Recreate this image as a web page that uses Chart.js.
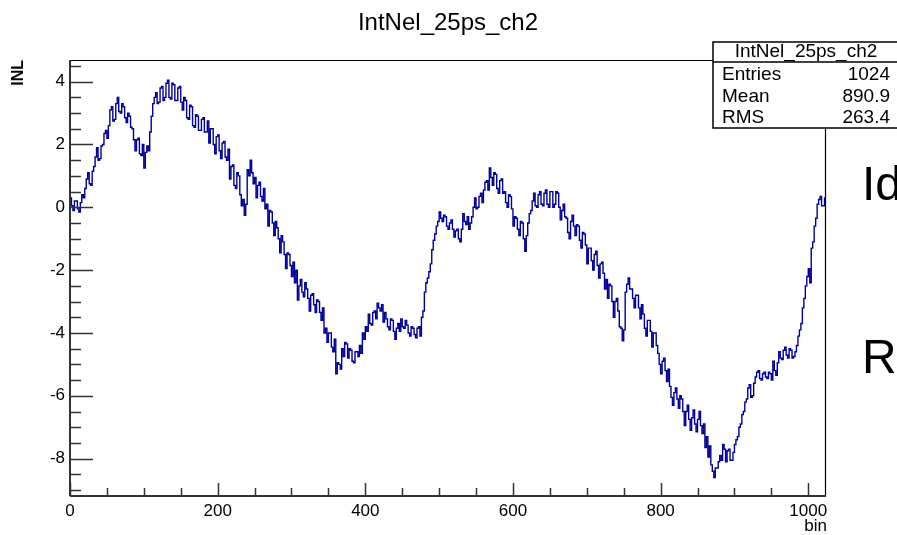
<!DOCTYPE html>
<html>
<head>
<meta charset="utf-8">
<title>IntNel_25ps_ch2</title>
<script src="https://cdn.jsdelivr.net/npm/chart.js@4"></script>
<style>
  html, body { margin: 0; padding: 0; background: #fff; }
  canvas { display: block; }
</style>
</head>
<body>
<canvas id="inl-chart" width="897" height="535"></canvas>
<script>
// histogram: 1024 bins, values read in groups of 2 bins
var binWidth = 2;
var nBins = 1024;
var inl = [
  0.3, 0.05, -0.1, 0.2, 0.2, -0.05, -0.15, 0.15, 0.4, 0.3, 0.6, 0.9, 1.1, 0.75, 0.7, 1.15,
  1.3, 1.6, 1.9, 1.5, 1.55, 1.95, 2.0, 2.35, 2.45, 2.2, 2.6, 3.1, 3.2, 2.75, 2.8, 3.3,
  3.5, 3.05, 3.0, 3.3, 3.2, 2.85, 2.7, 3.0, 2.9, 2.55, 2.5, 2.15, 1.8, 2.15, 2.2, 1.7,
  1.65, 2.0, 1.25, 1.75, 1.95, 1.8, 2.4, 2.9, 3.3, 3.5, 3.65, 3.3, 3.35, 3.8, 3.85, 3.4,
  3.5, 3.95, 4.05, 3.5, 3.45, 3.95, 3.9, 3.4, 3.4, 3.8, 3.85, 3.35, 3.1, 3.5, 3.4, 2.85,
  2.8, 3.25, 3.2, 2.6, 2.55, 2.95, 2.9, 2.45, 2.45, 2.8, 2.85, 2.4, 2.4, 2.75, 2.05, 2.5,
  2.5, 2.0, 1.7, 2.25, 2.3, 1.8, 1.55, 2.05, 2.1, 1.6, 1.5, 1.85, 0.9, 1.3, 1.35, 0.7,
  0.6, 1.1, 1.0, 0.4, 0.05, 0.25, -0.25, 0.1, 1.2, 1.0, 1.5, 1.1, 0.75, 0.95, 0.3, 0.7,
  0.8, 0.35, 0.2, 0.6, -0.05, 0.1, -0.6, -0.1, -0.15, -0.5, -0.9, -0.45, -0.65, -1.0, -1.45, -0.9,
  -1.1, -1.5, -1.95, -1.45, -1.5, -1.85, -2.2, -1.75, -2.4, -2.0, -2.95, -2.5, -2.3, -2.7, -2.85, -2.4,
  -2.6, -2.9, -3.3, -2.8, -2.75, -3.1, -3.35, -2.95, -3.0, -3.35, -3.6, -3.2, -4.0, -3.85, -4.3, -4.0,
  -4.0, -4.45, -4.6, -4.2, -5.3, -4.95, -5.0, -5.15, -4.5, -4.75, -4.3, -4.35, -4.8, -4.5, -4.55, -4.9,
  -4.95, -4.6, -4.6, -4.75, -4.4, -4.65, -4.0, -4.2, -3.8, -3.95, -3.4, -3.7, -3.75, -3.35, -3.3, -3.55,
  -3.05, -3.2, -3.3, -3.1, -3.65, -3.35, -3.55, -3.8, -3.9, -3.55, -3.6, -3.95, -4.2, -3.85, -3.7, -3.95,
  -3.55, -3.8, -3.85, -3.6, -3.75, -4.0, -4.1, -3.8, -3.85, -4.05, -4.15, -3.85, -3.8, -4.1, -3.5, -3.3,
  -2.7, -2.4, -2.25, -2.05, -1.8, -1.35, -1.05, -0.85, -0.6, -0.45, -0.15, -0.35, -0.45, -0.25, -0.3, -0.6,
  -0.7, -0.5, -0.4, -0.7, -0.95, -0.75, -0.7, -1.0, -1.1, -0.7, -0.2, -0.45, -0.55, -0.3, -0.7, -0.5,
  -0.3, 0.0, 0.3, -0.05, 0.0, 0.35, 0.45, 0.15, 0.55, 0.8, 0.85, 0.55, 1.25, 0.95, 0.7, 1.1,
  1.05, 0.6, 0.45, 0.85, 0.9, 0.45, 0.5, 0.15, 0.0, 0.4, 0.35, -0.05, -0.6, -0.3, -0.35, -0.7,
  -0.9, -0.45, -0.5, -1.0, -1.4, -0.9, -0.5, -0.2, -0.1, 0.2, 0.45, 0.05, 0.0, 0.4, 0.5, 0.1,
  0.05, 0.45, 0.55, 0.1, 0.0, 0.5, 0.5, 0.0, 0.1, 0.5, 0.45, 0.0, -0.4, -0.1, 0.1, -0.3,
  -0.35, -0.8, -1.0, -0.45, -0.25, -0.6, -0.9, -0.55, -0.6, -1.05, -1.3, -0.8, -0.85, -1.2, -1.8, -1.3,
  -1.3, -1.7, -2.0, -1.5, -1.4, -1.85, -2.25, -1.8, -1.75, -2.1, -2.6, -2.3, -2.9, -2.45, -2.5, -3.0,
  -3.5, -3.0, -2.9, -3.3, -3.8, -3.85, -4.25, -3.9, -2.7, -2.45, -2.25, -2.6, -2.6, -2.9, -3.2, -2.8,
  -2.8, -3.2, -3.55, -3.1, -3.4, -3.85, -4.1, -3.6, -3.6, -3.95, -4.45, -4.0, -4.0, -4.4, -4.65, -5.0,
  -5.3, -4.9, -4.8, -5.2, -5.55, -5.15, -5.7, -6.05, -6.3, -5.9, -5.75, -6.1, -6.4, -6.0, -6.1, -6.5,
  -6.95, -6.5, -6.3, -6.75, -7.1, -6.7, -6.45, -6.9, -7.15, -6.75, -6.5, -6.95, -7.2, -6.9, -7.65, -7.3,
  -7.95, -7.6, -8.2, -8.4, -8.6, -8.3, -8.3, -8.1, -7.9, -8.05, -7.55, -7.7, -8.1, -7.75, -7.7, -8.05,
  -8.05, -7.8, -7.55, -7.4, -7.3, -7.0, -6.9, -6.6, -6.5, -6.2, -6.1, -5.75, -5.65, -6.05, -6.0, -5.6,
  -5.4, -5.25, -5.2, -5.45, -5.5, -5.3, -5.25, -5.4, -5.45, -5.25, -5.3, -5.5, -4.9, -5.2, -5.35, -4.95,
  -4.6, -4.8, -4.85, -4.55, -4.45, -4.7, -4.8, -4.5, -4.55, -4.8, -4.75, -4.6, -4.4, -4.1, -3.9, -3.7,
  -3.2, -2.9, -2.5, -2.2, -1.95, -2.4, -1.3, -1.1, -0.6, -0.35, 0.1, 0.25, 0.35, 0.05, 0.05, 0.3
];
var xLabels = [0, 200, 400, 600, 800, 1000];
var yLabels = [-8, -6, -4, -2, 0, 2, 4];
var statNames = ['Entries', 'Mean', 'RMS'];
var statValues = ['1024', '890.9', '263.4'];

var FONT = '"Liberation Sans", Arial, sans-serif';

// bin left edges, plus closing point at the right edge
var points = inl.map(function (v, i) { return { x: i * binWidth, y: v }; });
points.push({ x: nBins, y: inl[inl.length - 1] });

// ROOT style frame, inward ticks, stats box and texts
var rootFrame = {
  id: 'rootFrame',
  afterDraw: function (chart) {
    var c = chart.ctx;
    var a = chart.chartArea;
    var xs = chart.scales.x, ys = chart.scales.y;
    c.save();

    // thin frame top / right
    c.strokeStyle = '#000';
    c.lineWidth = 1.2;
    c.beginPath();
    c.moveTo(a.left, a.top + 0.5); c.lineTo(a.right, a.top + 0.5);
    c.moveTo(a.right - 0.5, a.top); c.lineTo(a.right - 0.5, a.bottom);
    c.stroke();

    // axes
    c.strokeStyle = '#333';
    c.lineWidth = 2;
    c.beginPath();
    c.moveTo(a.left, a.top); c.lineTo(a.left, a.bottom);
    c.moveTo(a.left, a.bottom); c.lineTo(a.right, a.bottom);
    c.stroke();

    // y ticks every 0.5, long at labelled values
    c.lineWidth = 1.5;
    c.beginPath();
    for (var v = -9; v <= 4.5; v += 0.5) {
      var py = Math.round(ys.getPixelForValue(v)) + 0.5;
      var len = (v % 2 === 0) ? 23 : 11;
      c.moveTo(a.left, py); c.lineTo(a.left + len, py);
    }
    // x ticks every 50
    for (var b = 0; b <= 1000; b += 50) {
      var px = Math.round(xs.getPixelForValue(b)) + 0.5;
      var l2 = (b % 200 === 0) ? 13 : 8;
      c.moveTo(px, a.bottom); c.lineTo(px, a.bottom - l2);
    }
    c.stroke();

    // title
    c.fillStyle = '#000';
    c.font = '24px ' + FONT;
    c.textAlign = 'center';
    c.textBaseline = 'middle';
    c.fillText('IntNel_25ps_ch2', 448, 23);

    // axis titles
    c.font = 'bold 16px ' + FONT;
    c.save();
    c.translate(19, 60);
    c.rotate(-Math.PI / 2);
    c.textAlign = 'right';
    c.fillText('INL', 0, 0);
    c.restore();
    c.font = '17px ' + FONT;
    c.textAlign = 'right';
    c.fillText('bin', a.right + 1, 526);

    // stats box
    var bx = 713, by = 42, bw = 186, bh = 86;
    c.fillStyle = '#fff';
    c.fillRect(bx, by, bw, bh);
    c.strokeStyle = '#000';
    c.lineWidth = 1.5;
    c.strokeRect(bx, by, bw, bh);
    c.beginPath();
    c.moveTo(bx, 62); c.lineTo(bx + bw, 62);
    c.stroke();
    c.fillStyle = '#000';
    c.font = '19px ' + FONT;
    c.textAlign = 'center';
    c.fillText('IntNel_25ps_ch2', 806, 52);
    for (var i = 0; i < statNames.length; i++) {
      var ry = 75 + i * 21.5;
      c.textAlign = 'left';
      c.fillText(statNames[i], 722, ry);
      c.textAlign = 'right';
      c.fillText(statValues[i], 890, ry);
    }

    // text from the slide behind
    c.font = '48px ' + FONT;
    c.textAlign = 'left';
    c.textBaseline = 'alphabetic';
    c.fillText('Id', 862, 200);
    c.fillText('R', 862, 373);
    c.restore();
  }
};

var ctx = document.getElementById('inl-chart').getContext('2d');
var myChart = new Chart(ctx, {
  type: 'line',
  data: {
    datasets: [{
      label: 'IntNel_25ps_ch2',
      data: points,
      stepped: true,
      borderColor: '#000099',
      borderWidth: 1.4,
      pointRadius: 0,
      fill: false
    }]
  },
  options: {
    responsive: false,
    animation: false,
    devicePixelRatio: 1,
    layout: { padding: { top: 60, right: 71, left: 0, bottom: 0 } },
    plugins: {
      legend: { display: false },
      title: { display: false },
      tooltip: { enabled: false }
    },
    scales: {
      x: {
        type: 'linear',
        min: 0,
        max: nBins,
        grid: { display: false, drawTicks: false },
        border: { display: false },
        afterBuildTicks: function (s) { s.ticks = xLabels.map(function (v) { return { value: v }; }); },
        afterFit: function (s) { s.height = 39; },
        ticks: {
          padding: 5,
          maxRotation: 0,
          autoSkip: false,
          color: '#000',
          font: { family: FONT, size: 17 },
          callback: function (v) { return String(v); }
        }
      },
      y: {
        min: -9.19,
        max: 4.69,
        grid: { display: false, drawTicks: false },
        border: { display: false },
        afterBuildTicks: function (s) { s.ticks = yLabels.map(function (v) { return { value: v }; }); },
        afterFit: function (s) { s.width = 70; },
        ticks: {
          padding: 5,
          autoSkip: false,
          color: '#000',
          font: { family: FONT, size: 17 },
          callback: function (v) { return String(v); }
        }
      }
    }
  },
  plugins: [rootFrame]
});
</script>
</body>
</html>
